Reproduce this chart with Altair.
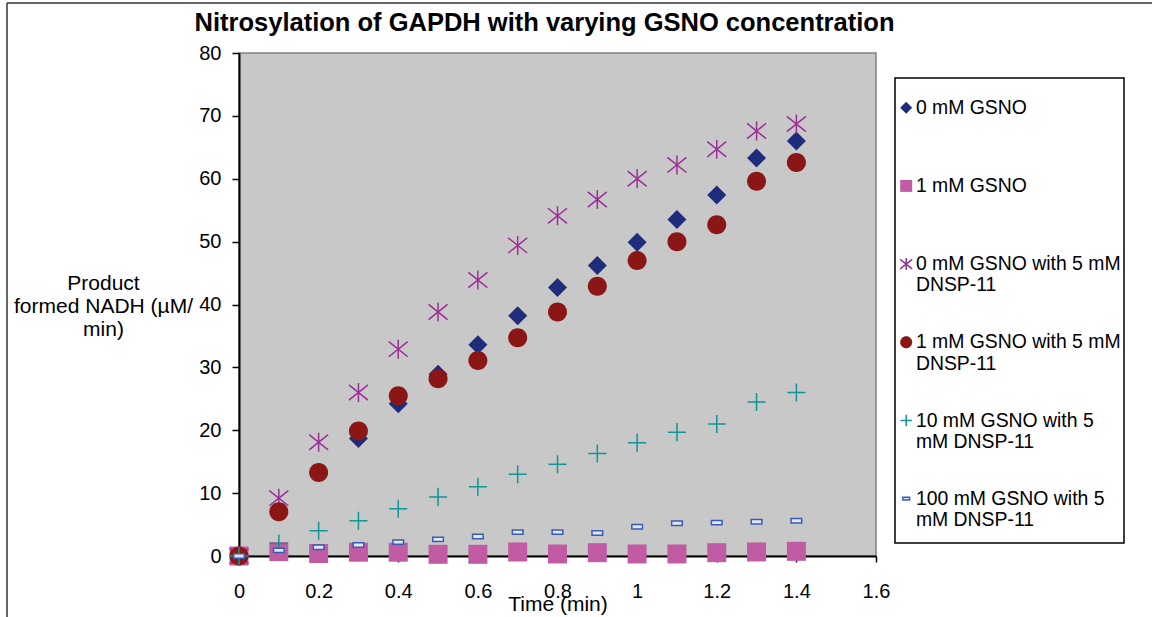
import altair as alt
import pandas as pd

TIME = [0.0, 0.1, 0.2, 0.3, 0.4, 0.5, 0.6, 0.7, 0.8, 0.9, 1.0, 1.1, 1.2, 1.3, 1.4]
SERIES = [
    "0 mM GSNO",
    "1 mM GSNO",
    "0 mM GSNO with 5 mM DNSP-11",
    "1 mM GSNO with 5 mM DNSP-11",
    "10 mM GSNO with 5 mM DNSP-11",
    "100 mM GSNO with 5 mM DNSP-11",
]
LEGEND_LINES = [
    ["0 mM GSNO", ""],
    ["1 mM GSNO", ""],
    ["0 mM GSNO with 5 mM", "DNSP-11"],
    ["1 mM GSNO with 5 mM", "DNSP-11"],
    ["10 mM GSNO with 5", "mM DNSP-11"],
    ["100 mM GSNO with 5", "mM DNSP-11"],
]
GSNO_0 = [0, 7.0, 13.3, 18.7, 24.2, 28.9, 33.6, 38.2, 42.7, 46.2, 49.9, 53.5, 57.4, 63.3, 66.0]
GSNO_1 = [0, 0.7, 0.4, 0.6, 0.6, 0.27, 0.27, 0.64, 0.32, 0.53, 0.32, 0.32, 0.53, 0.64, 0.74]
GSNO_0_DNSP = [0, 9.2, 18.1, 26.0, 32.9, 38.8, 43.9, 49.4, 54.1, 56.7, 60.0, 62.2, 64.7, 67.6, 68.7]
GSNO_1_DNSP = [0, 7.05, 13.3, 19.9, 25.5, 28.2, 31.1, 34.7, 38.8, 42.9, 47.0, 50.0, 52.7, 59.6, 62.6]
GSNO_10_DNSP = [0, 2.0, 4.0, 5.6, 7.5, 9.4, 11.0, 13.0, 14.6, 16.3, 18.0, 19.7, 21.0, 24.5, 26.0]
GSNO_100_DNSP = [0, 0.9, 1.4, 1.75, 2.2, 2.65, 3.1, 3.8, 3.8, 3.65, 4.65, 5.2, 5.3, 5.45, 5.6]
X_TICKS = [0, 0.2, 0.4, 0.6, 0.8, 1, 1.2, 1.4, 1.6]
Y_TICKS = [0, 10, 20, 30, 40, 50, 60, 70, 80]

SHAPES = [
    "M0,-1L1,0L0,1L-1,0Z",
    "M-1,-1L1,-1L1,1L-1,1Z",
    "M0,-1L0,1M-1,-0.8L1,0.8M-1,0.8L1,-0.8",
    "M1,0A1,1,0,1,1,-1,0A1,1,0,1,1,1,0Z",
    "M-0.95,0L0.95,0M0,-0.95L0,0.95",
    "M-0.56,-0.23L0.56,-0.23L0.56,0.23L-0.56,0.23Z",
]
FILLS = ["#1F2C7C", "#C15BA4", "transparent", "#8B1616", "transparent", "#E2E6F0"]
STROKES = ["transparent", "transparent", "#9B2F98", "transparent", "#109494", "#3A5BB5"]

rows = []
for name, vals in zip(SERIES, [GSNO_0, GSNO_1, GSNO_0_DNSP, GSNO_1_DNSP, GSNO_10_DNSP, GSNO_100_DNSP]):
    for t, v in zip(TIME, vals):
        rows.append({"time": t, "value": v, "series": name})
df = pd.DataFrame(rows)

label_expr = ""
for name, lines in zip(SERIES, LEGEND_LINES):
    label_expr += "datum.label == '%s' ? ['%s', '%s'] : " % (name, lines[0], lines[1])
label_expr += "datum.label"

FONT = "Liberation Sans"

legend = alt.Legend(
    title=None, orient="none", legendX=657.5, legendY=45, direction="vertical",
    labelFont=FONT, labelFontSize=19.4, labelColor="black", labelLimit=0,
    labelExpr=label_expr, symbolSize=144, symbolStrokeWidth=1.5, labelOffset=0,
    padding=0, rowPadding=36.2, gridAlign="all", zindex=2,
)

points = alt.Chart(df).mark_point(size=361, strokeWidth=1.5, opacity=1).encode(
    x=alt.X("time:Q", scale=alt.Scale(domain=[0, 1.6], nice=False, zero=False),
            axis=alt.Axis(values=X_TICKS, format="~g", title="Time (min)", grid=False,
                          labelFont=FONT, labelFontSize=20, labelColor="black", labelPadding=19,
                          labelFlush=False, tickSize=6, tickColor="black", tickWidth=1.5,
                          domainColor="black", domainWidth=2,
                          titleFont=FONT, titleFontSize=21, titleFontWeight="normal",
                          titleColor="black", titleY=48, titleBaseline="middle")),
    y=alt.Y("value:Q", scale=alt.Scale(domain=[0, 80], nice=False),
            axis=alt.Axis(values=Y_TICKS, title=["Product", "formed NADH (µM/", "min)"], grid=False,
                          labelFont=FONT, labelFontSize=20, labelColor="black", labelPadding=11,
                          tickSize=7, tickColor="black", tickWidth=1.5,
                          domainColor="black", domainWidth=2,
                          titleFont=FONT, titleFontSize=21, titleFontWeight="normal",
                          titleColor="black", titleAngle=0, titleAlign="center",
                          titleBaseline="middle", titleX=-136, titleY=230, titleLineHeight=23)),
    shape=alt.Shape("series:N", scale=alt.Scale(domain=SERIES, range=SHAPES), legend=legend),
    fill=alt.Fill("series:N", scale=alt.Scale(domain=SERIES, range=FILLS), legend=legend),
    stroke=alt.Stroke("series:N", scale=alt.Scale(domain=SERIES, range=STROKES), legend=legend),
)

frame_df = pd.DataFrame({"k": [0]})
border_top = alt.Chart(frame_df).mark_rule(color="#333333", strokeWidth=1.5).encode(
    x=alt.value(-232), x2=alt.value(913), y=alt.value(-50))
border_left = alt.Chart(frame_df).mark_rule(color="#333333", strokeWidth=1.5).encode(
    x=alt.value(-232), y=alt.value(-50), y2=alt.value(600))
legend_box = alt.Chart(frame_df).mark_rect(fill="white", stroke="black", strokeWidth=1.5).encode(
    x=alt.value(656), x2=alt.value(885), y=alt.value(25), y2=alt.value(490))

chart = alt.layer(border_top, border_left, legend_box, points).properties(
    width=637, height=503,
    padding={"left": 239, "top": 53, "right": 276, "bottom": 61},
    autosize=alt.AutoSizeParams(type="none"),
    title=alt.TitleParams(
        text="Nitrosylation of GAPDH with varying GSNO concentration",
        font=FONT, fontSize=25.5, fontWeight="bold", color="black",
        anchor="middle", frame="group", dx=-13, offset=-34),
).configure(background="white"
).configure_view(fill="#C8C8C8", stroke="#808080", strokeWidth=1.5)

chart.save("out.html", embed_options={"renderer": "svg", "actions": False})
